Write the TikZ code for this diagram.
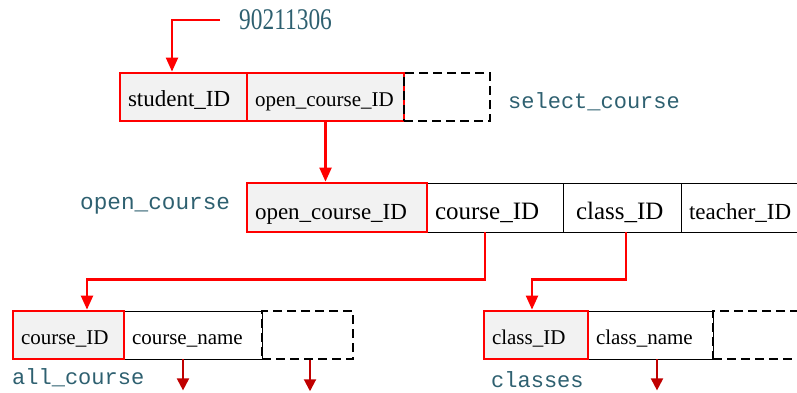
\documentclass[tikz,border=0pt]{standalone}
\usepackage{fontspec}
\usepackage{graphicx}
\setmainfont{Liberation Serif}
\newfontfamily\monofont{Liberation Mono}
\usetikzlibrary{arrows.meta}
\definecolor{teal1}{RGB}{46,96,112}
\definecolor{cellgray}{RGB}{242,242,242}
\definecolor{darkred}{RGB}{192,0,0}
\begin{document}
\begin{tikzpicture}[x=1pt,y=-1pt,
 cell/.style={rectangle, inner xsep=8pt, inner ysep=0pt, minimum height=48pt, align=left, text height=20pt, text depth=2pt, font=\fontsize{21}{21}\selectfont, draw=black, line width=0.8pt},
 bigcell/.style={cell, minimum height=49pt, text height=24pt, text depth=1pt, font=\fontsize{23}{23}\selectfont},
 keycell/.style={draw=red, line width=2.8pt, fill=cellgray},
 dashcell/.style={rectangle, draw=black, line width=2.5pt, dash pattern=on 9pt off 5pt, minimum height=48pt, inner sep=0pt},
 lbl/.style={text=teal1, font=\monofont\fontsize{22}{22}\selectfont, anchor=west, inner sep=0pt},
 link/.style={draw=red, line width=2.2pt, -{Triangle[length=14pt,width=12pt]}},
 outlink/.style={draw=darkred, line width=2pt, -{Triangle[length=12pt,width=12pt]}}
]
\useasboundingbox (0,0) rectangle (797,392);
\clip (0,0) rectangle (797,392);
% labels
\node[text=teal1, anchor=west, inner sep=0pt, font=\fontsize{30}{30}\selectfont] (num) at (239,20) {\scalebox{0.78}[1]{90211306}};
\node[lbl] (lsel) at (508,102) {select\_course};
\node[lbl, font=\monofont\fontsize{22.7}{22.7}\selectfont] (lopen) at (80,206) {open\_course};
\node[lbl] (lall) at (12,378) {all\_course};
\node[lbl] (lcls) at (491,380) {classes};
% row 1
\node[cell, keycell, text width=111pt, font=\fontsize{23}{23}\selectfont] (stud) at (183.5,97) {student\_ID};
\node[cell, keycell, text width=141pt] (oc1) at (325.5,97) {open\_course\_ID};
\node[dashcell, minimum width=86pt] (dash1) at (447,97) {};
% row 2
\node[bigcell, text width=120pt, font=\fontsize{25}{25}\selectfont] (cid2) at (495,207.5) {course\_ID};
\node[bigcell, text width=92pt, inner xsep=13pt, font=\fontsize{25}{25}\selectfont] (clsid2) at (622,207.5) {class\_ID};
\node[bigcell, text width=100pt] (teach) at (739,207.5) {teacher\_ID};
\node[bigcell, keycell, text width=164pt] (oc2) at (337,207.5) {open\_course\_ID};
% row 3
\node[cell, text width=122pt] (cname) at (193,335) {course\_name};
\node[cell, keycell, text width=95pt] (cid3) at (68.5,335) {course\_ID};
\node[dashcell, minimum width=91pt] (dash3) at (307.5,335) {};
\node[cell, text width=109pt] (clsname) at (650.5,335) {class\_name};
\node[cell, keycell, text width=88pt] (clsid3) at (536,335) {class\_ID};
\node[dashcell, minimum width=117pt] (dash4) at (771.5,335) {};
% connectors
\draw[link] ([xshift=-19pt]num.west) -| ([xshift=-11.5pt]stud.north);
\draw[link] (oc1.south) -- (oc1.south |- oc2.north);
\draw[link] ([xshift=-10pt]cid2.south) -- ++(0,47) -| ([xshift=18.5pt]cid3.north);
\draw[link] ([xshift=4pt]clsid2.south) -- ++(0,47) -| ([xshift=-4pt]clsid3.north);
\draw[outlink] ([xshift=-10pt]cname.south) -- ++(0,31);
\draw[outlink] ([xshift=2.5pt]dash3.south) -- ++(0,31);
\draw[outlink] ([xshift=6.5pt]clsname.south) -- ++(0,31);
\end{tikzpicture}
\end{document}
